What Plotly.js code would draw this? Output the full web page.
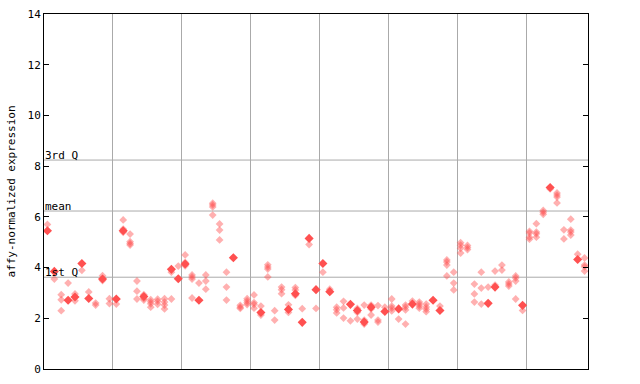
<!DOCTYPE html>
<html>
<head>
<meta charset="utf-8">
<script src="https://cdn.plot.ly/plotly-3.0.1.min.js"></script>
<style>html,body{margin:0;padding:0;background:#fff;}#chart{width:640px;height:384px;}</style>
</head>
<body>
<div id="chart"></div>
<script>
// Replicate values (open diamonds) per sample column
const openValues = [
  [5.70], [3.55], [2.93, 2.73, 2.30], [3.39], [2.96, 2.69],
  [3.89], [3.04], [2.60, 2.52], [3.68, 3.49], [2.77, 2.58],
  [2.56], [5.88, 5.52, 5.39], [5.32, 5.02, 4.95, 4.89], [3.47, 3.07, 2.76], [2.93, 2.79, 2.72],
  [2.73, 2.65, 2.57, 2.44], [2.75, 2.67, 2.55], [2.77, 2.64, 2.52, 2.37], [3.82, 2.76], [4.06],
  [4.50, 4.20, 4.07], [3.71, 3.63, 3.55, 2.80], [3.39], [3.71, 3.47, 3.15], [6.54, 6.47, 6.39, 6.07],
  [5.72, 5.48, 5.09], [3.82, 3.23, 2.72], [], [2.51, 2.44, 2.39], [2.77, 2.69, 2.61, 2.54],
  [2.92, 2.62, 2.55, 2.40], [2.48, 2.13], [4.11, 4.02, 3.94, 3.63], [2.30, 1.93], [3.23, 3.13, 2.97],
  [2.53, 2.23], [3.21, 3.12, 2.90], [2.38], [4.91], [2.39],
  [3.82], [3.15], [2.44, 2.34, 2.21], [2.67, 2.41, 2.01], [1.90],
  [2.39, 2.23, 1.97], [2.52, 1.93, 1.77], [2.52, 2.37, 2.13], [2.50, 1.93, 1.85], [2.44],
  [2.76, 2.48, 2.40, 2.29], [1.97], [2.52, 2.44, 2.33, 1.77], [2.68], [2.64, 2.56, 2.48, 2.40],
  [2.56, 2.45, 2.36, 2.26], [], [2.48], [4.30, 4.22, 4.10, 3.67], [3.82, 3.39, 3.12],
  [4.98, 4.88, 4.76, 4.57], [4.87, 4.79, 4.71], [3.35, 2.96, 2.64], [3.82, 3.19, 2.56], [3.23],
  [3.86, 3.31], [4.10, 3.90], [3.43, 3.35, 3.27], [3.67, 3.59, 3.47, 2.76], [2.31],
  [5.43, 5.36, 5.20, 5.12], [5.73, 5.40, 5.33, 5.20], [6.25, 6.18, 6.10], [7.10], [6.94, 6.86, 6.78, 6.55],
  [5.49, 5.13], [5.91, 5.48, 5.40, 5.28], [4.53], [4.38, 4.10, 4.03, 3.86]
];
// Highlighted value (filled diamond) per sample column, null if none
const filledValues = [
  5.45, 3.85, null, 2.71, 2.84, 4.16, 2.78, null, 3.55, null,
  2.76, 5.45, null, null, 2.86, null, null, null, 3.93, 3.56,
  4.14, null, 2.71, null, null, null, null, 4.39, null, null,
  null, 2.23, null, null, null, 2.35, 2.97, 1.84, 5.15, 3.13,
  4.16, 3.05, null, null, 2.55, 2.31, 1.85, 2.44, null, 2.27,
  null, 2.37, null, 2.56, null, null, 2.71, 2.31, null, null,
  null, null, null, null, 2.59, 3.23, null, null, null, 2.51,
  null, null, null, 7.16, null, null, null, 4.32, null
];
const statLabels = ["3rd Q", "mean", "1st Q"];
const statValues = [8.24, 6.23, 3.62];
const yTickVals = [0, 2, 4, 6, 8, 10, 12, 14];
const groupBoundaries = [9.5, 19.5, 29.5, 39.5, 49.5, 59.5, 69.5];

const ox = [], oy = [];
openValues.forEach((arr, i) => arr.forEach(v => { ox.push(i); oy.push(v); }));
const fx = [], fy = [];
filledValues.forEach((v, i) => { if (v !== null) { fx.push(i); fy.push(v); } });

const red = '#ff5050';
const mono = 'DejaVu Sans Mono, monospace';

const traces = [
  {x: ox, y: oy, type: 'scatter', mode: 'markers', hoverinfo: 'skip',
   marker: {symbol: 'diamond', size: 6, color: 'rgba(255,80,80,0.45)', line: {width: 0}}},
  {x: fx, y: fy, type: 'scatter', mode: 'markers', hoverinfo: 'skip',
   marker: {symbol: 'diamond', size: 7, color: red, line: {width: 0}}}
];

const shapes = statValues.map(v => ({
  type: 'line', xref: 'paper', yref: 'y', x0: 0, x1: 1, y0: v, y1: v,
  line: {color: '#aaaaaa', width: 1}, layer: 'below'
}));
const annotations = statLabels.map((t, i) => ({
  xref: 'paper', yref: 'y', x: 0, y: statValues[i], text: t, showarrow: false,
  xanchor: 'left', yanchor: 'bottom', xshift: -1, yshift: -4,
  font: {family: mono, size: 11, color: '#000'}
}));

const layout = {
  width: 640, height: 384,
  margin: {l: 44, r: 52, t: 14, b: 15, pad: 0},
  paper_bgcolor: '#fff', plot_bgcolor: '#fff',
  showlegend: false,
  xaxis: {
    range: [-0.5, 78.5], tickmode: 'array', tickvals: groupBoundaries,
    showticklabels: false, ticks: '', showgrid: true, gridcolor: '#aaaaaa', gridwidth: 1,
    zeroline: false, showline: true, linecolor: '#000', linewidth: 1, mirror: true
  },
  yaxis: {
    range: [0, 14], tickmode: 'array', tickvals: yTickVals, ticktext: yTickVals.map(String),
    ticks: 'inside', ticklen: 5, tickcolor: '#000', tickwidth: 1,
    showgrid: false, zeroline: false, showline: true, linecolor: '#000', linewidth: 1, mirror: 'ticks',
    tickfont: {family: mono, size: 11, color: '#000'},
    title: {text: 'affy-normalized expression', font: {family: mono, size: 11, color: '#000'}, standoff: 9}
  },
  shapes: shapes,
  annotations: annotations
};

Plotly.newPlot('chart', traces, layout, {displayModeBar: false, staticPlot: true});
</script>
</body>
</html>
